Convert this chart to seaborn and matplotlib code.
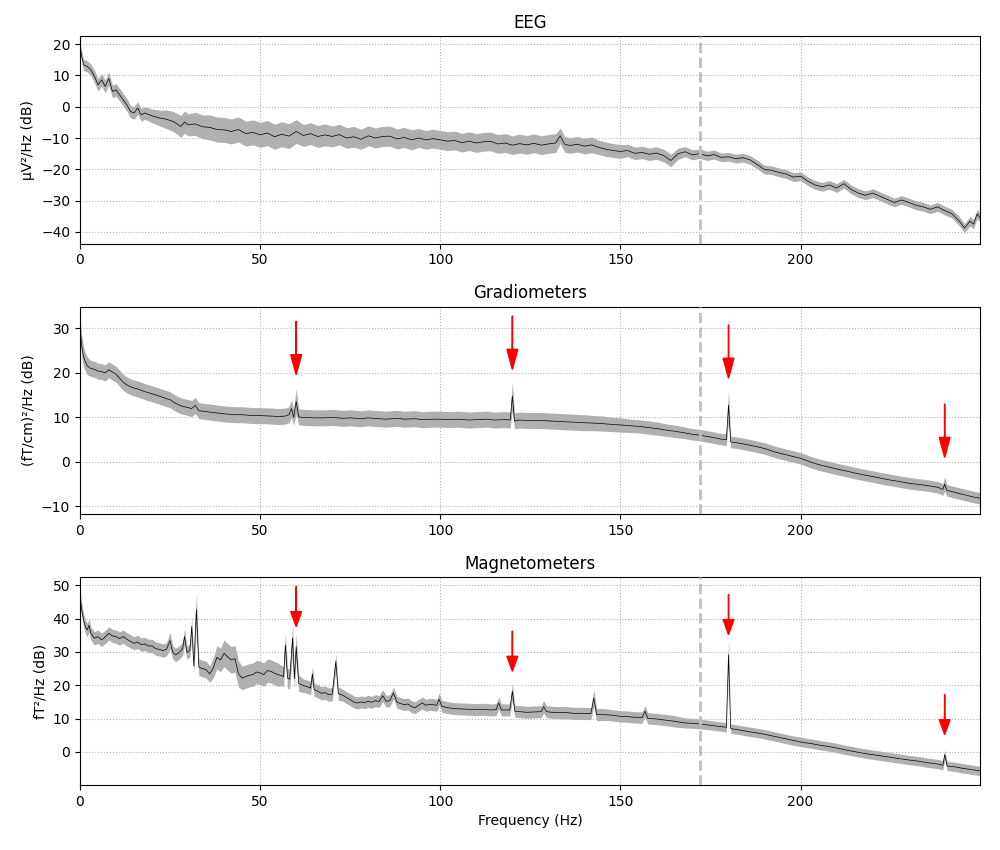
import numpy as np
import matplotlib
matplotlib.use("Agg")
import matplotlib.pyplot as plt
import seaborn as sns

# --- values (frequency in Hz, PSD mean and std in dB) ---
eeg_freqs = [0, 0.5, 1, 2, 3, 4, 5, 6, 7, 8,
             9, 10, 11, 12, 13, 14, 15, 16, 17, 18,
             20, 22, 24, 26, 28, 29, 30, 32, 34, 36,
             38, 40, 42, 44, 46, 48, 50, 52, 54, 56,
             58, 60, 62, 64, 66, 68, 70, 72, 74, 76,
             78, 80, 82, 84, 86, 88, 90, 92, 94, 96,
             98, 100, 102, 104, 106, 108, 110, 112, 114, 116,
             118, 120, 122, 124, 126, 128, 130, 132, 133.3, 134.5,
             136, 138, 140, 142, 144, 146, 148, 150, 152, 154,
             156, 158, 160, 162, 164, 166, 168, 170, 172, 174,
             176, 178, 180, 182, 184, 186, 188, 190, 192, 194,
             196, 198, 200, 202, 204, 206, 208, 210, 212, 214,
             216, 218, 220, 222, 224, 226, 228, 230, 232, 234,
             236, 238, 240, 242, 244, 245.5, 247, 248, 249, 250]
eeg_psd = [19.5, 16.0, 13.4, 12.9, 11.8, 9.7, 7.0, 8.6, 6.5, 9.0,
           4.9, 5.4, 3.8, 2.2, 0.6, -1.5, -2.0, -0.4, -2.6, -2.0,
           -2.9, -3.6, -4.0, -4.8, -6.3, -4.9, -5.8, -5.5, -6.4, -6.6,
           -7.3, -7.4, -7.9, -7.3, -8.6, -8.2, -9.0, -8.4, -9.6, -8.8,
           -9.4, -7.9, -9.2, -8.6, -9.5, -9.0, -9.5, -8.9, -10.0, -9.6,
           -10.4, -9.3, -10.0, -9.5, -9.4, -10.3, -9.8, -10.6, -10.0, -10.6,
           -10.2, -10.6, -11.0, -10.8, -11.5, -11.0, -11.6, -11.2, -11.1, -11.9,
           -11.6, -12.3, -11.8, -12.2, -11.7, -12.3, -11.9, -11.6, -9.3, -12.0,
           -12.4, -12.0, -12.6, -12.2, -13.0, -13.6, -14.0, -14.3, -14.0, -14.9,
           -14.6, -15.2, -14.8, -15.6, -17.2, -15.0, -14.4, -15.4, -15.0, -15.7,
           -15.3, -16.2, -16.0, -16.6, -16.3, -17.0, -18.5, -20.1, -20.3, -21.0,
           -21.5, -22.5, -22.2, -23.8, -25.0, -25.6, -25.0, -26.0, -24.6, -26.4,
           -27.6, -28.3, -27.6, -28.6, -29.6, -30.6, -29.8, -30.6, -31.5, -32.0,
           -32.8, -32.0, -33.2, -34.2, -36.5, -38.8, -36.6, -37.5, -34.3, -35.8]
eeg_std = [1.5, 1.5, 1.8, 1.8, 1.8, 2.0, 2.0, 2.0, 2.0, 2.2,
           2.0, 2.0, 2.0, 2.0, 2.0, 2.0, 2.0, 2.0, 2.0, 2.0,
           2.2, 2.5, 3.0, 3.2, 3.5, 3.5, 3.5, 3.7, 3.8, 4.0,
           4.0, 4.0, 4.0, 4.0, 4.0, 4.0, 4.0, 4.0, 4.0, 4.0,
           4.0, 3.8, 3.5, 3.5, 3.5, 3.5, 3.3, 3.3, 3.3, 3.3,
           3.2, 3.2, 3.2, 3.2, 3.2, 3.2, 3.2, 3.2, 3.0, 3.0,
           3.0, 3.0, 3.0, 3.0, 3.0, 3.0, 3.0, 3.0, 3.0, 3.0,
           3.0, 3.0, 3.0, 3.0, 3.0, 3.0, 3.0, 3.0, 2.5, 2.5,
           2.5, 2.5, 2.5, 2.5, 2.3, 2.3, 2.2, 2.2, 2.0, 2.0,
           2.0, 2.0, 2.0, 2.0, 2.0, 1.8, 1.6, 1.6, 1.5, 1.5,
           1.4, 1.4, 1.4, 1.4, 1.4, 1.4, 1.4, 1.4, 1.4, 1.4,
           1.4, 1.4, 1.4, 1.4, 1.4, 1.4, 1.4, 1.4, 1.4, 1.4,
           1.4, 1.4, 1.4, 1.4, 1.4, 1.4, 1.4, 1.4, 1.4, 1.4,
           1.4, 1.4, 1.4, 1.4, 1.5, 1.5, 1.5, 1.5, 1.5, 1.5]

grad_freqs = [0, 0.5, 1, 1.5, 2, 3, 4, 5, 6, 7,
              8, 9, 10, 11, 12, 13, 14, 15, 16, 18,
              20, 22, 24, 25, 26, 28, 30, 31, 32, 33,
              35, 37, 40, 43, 45, 48, 50, 53, 55, 57,
              58, 58.7, 59.3, 60, 60.7, 62, 65, 68, 70, 73,
              75, 78, 80, 83, 85, 88, 90, 93, 95, 98,
              100, 103, 105, 108, 110, 113, 115, 118, 119.4, 120,
              120.6, 122, 125, 128, 130, 133, 135, 138, 140, 143,
              145, 148, 150, 153, 155, 158, 160, 163, 165, 168,
              170, 172, 175, 178, 179.4, 180, 180.6, 183, 185, 188,
              190, 193, 195, 198, 200, 203, 205, 208, 210, 213,
              215, 218, 220, 223, 225, 228, 230, 233, 235, 238,
              239.5, 240, 240.6, 243, 245, 248, 250]
grad_psd = [30.5, 26.0, 23.5, 22.5, 21.6, 21.0, 20.8, 20.4, 20.3, 20.0,
            20.7, 20.2, 19.7, 18.8, 17.9, 17.3, 16.9, 16.6, 16.4, 15.8,
            15.3, 14.8, 14.2, 14.0, 13.4, 12.6, 12.2, 12.0, 12.7, 11.5,
            11.3, 11.1, 10.8, 10.6, 10.6, 10.4, 10.4, 10.3, 10.2, 10.3,
            10.6, 12.0, 10.0, 13.6, 10.1, 10.0, 9.9, 9.9, 10.0, 9.8,
            9.9, 9.7, 9.9, 9.7, 9.6, 9.8, 9.6, 9.7, 9.5, 9.6,
            9.6, 9.5, 9.6, 9.4, 9.5, 9.6, 9.4, 9.5, 9.4, 14.8,
            9.2, 9.4, 9.3, 9.3, 9.2, 9.1, 9.0, 8.9, 8.8, 8.7,
            8.6, 8.4, 8.3, 8.1, 8.0, 7.7, 7.5, 7.1, 6.9, 6.5,
            6.2, 6.0, 5.6, 5.1, 5.0, 12.8, 4.5, 4.2, 3.9, 3.4,
            3.0, 2.2, 1.8, 1.2, 0.8, -0.1, -0.6, -1.2, -1.6, -2.1,
            -2.5, -3.0, -3.3, -3.8, -4.1, -4.5, -4.8, -5.1, -5.3, -5.7,
            -6.2, -5.0, -6.4, -6.9, -7.3, -7.9, -8.2]
grad_std = [2.0, 2.5, 2.2, 2.0, 2.0, 1.8, 1.8, 1.8, 1.8, 1.8,
            1.8, 1.8, 1.8, 1.8, 1.8, 1.8, 1.8, 1.8, 1.8, 1.8,
            1.8, 1.8, 1.8, 1.8, 1.8, 1.8, 1.8, 1.8, 1.8, 1.8,
            1.8, 1.8, 1.8, 1.8, 1.8, 1.8, 1.8, 1.8, 1.8, 1.8,
            1.8, 2.0, 1.8, 2.8, 1.8, 1.8, 1.8, 1.8, 1.8, 1.8,
            1.8, 1.8, 1.8, 1.8, 1.8, 1.8, 1.8, 1.8, 1.8, 1.8,
            1.8, 1.8, 1.8, 1.8, 1.8, 1.8, 1.8, 1.8, 1.8, 3.2,
            1.8, 1.8, 1.8, 1.8, 1.8, 1.8, 1.8, 1.8, 1.8, 1.7,
            1.7, 1.6, 1.6, 1.5, 1.5, 1.5, 1.5, 1.4, 1.4, 1.3,
            1.3, 1.3, 1.3, 1.3, 1.3, 3.5, 1.3, 1.3, 1.3, 1.3,
            1.3, 1.3, 1.3, 1.3, 1.3, 1.3, 1.3, 1.3, 1.3, 1.3,
            1.3, 1.3, 1.3, 1.3, 1.3, 1.3, 1.3, 1.3, 1.3, 1.3,
            1.3, 1.6, 1.3, 1.3, 1.3, 1.3, 1.3]

mag_freqs = [0, 0.5, 1, 1.5, 2, 2.5, 3, 4, 5, 6,
             7, 8, 9, 10, 11, 12, 13, 14, 15, 16,
             17, 18, 19, 20, 21, 22, 23, 24, 25, 25.7,
             26.5, 27.5, 28.5, 29, 29.7, 30.5, 31, 31.6, 32.3, 33,
             34, 35, 36, 37, 38, 39, 40, 41, 42, 43,
             44, 45, 46, 47, 48, 49, 50, 51, 52, 53,
             54, 55, 56, 56.5, 57, 57.6, 58.2, 59, 59.5, 60,
             60.7, 62, 63, 64, 64.5, 65, 66, 67, 68, 69,
             70, 71, 71.7, 73, 74, 75, 76, 77, 78, 79,
             80, 81, 82, 83, 84, 85, 86, 87, 88, 89,
             90, 91, 92, 93, 94, 95, 96, 97, 98, 99,
             99.7, 100.4, 102, 104, 106, 108, 110, 112, 114, 115.5,
             116.2, 117, 119.3, 120, 120.7, 122, 124, 126, 128, 128.7,
             129.5, 131, 133, 135, 137, 139, 141.8, 142.6, 143.4, 145,
             147, 150, 152, 154, 156, 156.8, 157.6, 160, 163, 165,
             168, 170, 172, 175, 178, 179.4, 180, 180.6, 183, 185,
             188, 190, 193, 195, 198, 200, 203, 205, 208, 210,
             213, 215, 218, 220, 223, 225, 228, 230, 233, 235,
             238, 239.5, 240, 240.7, 243, 245, 248, 250]
mag_psd = [46.5, 42.5, 39.6, 37.5, 36.6, 38.0, 35.6, 34.1, 34.6, 33.6,
           34.5, 35.6, 34.8, 34.6, 34.0, 34.6, 33.8, 33.2, 32.6, 33.0,
           32.2, 32.4, 31.8, 31.8, 31.0, 30.8, 30.4, 30.8, 33.4, 30.0,
           29.1, 29.8, 31.0, 34.6, 29.8, 30.6, 37.6, 25.8, 42.8, 25.4,
           25.0, 24.7, 23.4, 25.2, 28.4, 27.6, 29.6, 28.5, 27.6, 28.0,
           23.4, 22.2, 22.6, 23.0, 23.2, 24.0, 23.7, 23.2, 24.4, 24.2,
           23.6, 23.2, 22.9, 22.6, 32.1, 22.2, 21.8, 34.2, 22.0, 31.6,
           20.6, 19.9, 19.6, 19.2, 23.4, 18.7, 18.2, 17.6, 17.8, 17.2,
           17.3, 27.1, 17.5, 17.0, 16.3, 15.7, 15.0, 14.7, 15.0, 14.8,
           15.2, 14.9, 15.4, 15.1, 16.9, 15.2, 15.4, 17.7, 14.9, 14.5,
           14.2, 14.4, 13.6, 13.3, 14.0, 14.7, 14.0, 14.3, 14.2, 14.0,
           15.8, 13.7, 13.3, 13.0, 12.9, 12.8, 12.7, 12.8, 12.6, 12.7,
           14.7, 12.6, 12.6, 18.2, 12.2, 12.1, 11.9, 12.0, 12.1, 13.6,
           12.1, 11.9, 11.8, 11.8, 11.6, 11.6, 11.5, 16.2, 11.2, 11.2,
           11.1, 10.7, 10.6, 10.4, 10.3, 12.2, 10.1, 9.9, 9.5, 9.2,
           8.7, 8.6, 8.4, 8.0, 7.6, 7.4, 29.2, 7.0, 6.6, 6.2,
           5.7, 5.3, 4.6, 4.1, 3.4, 3.0, 2.5, 2.1, 1.6, 1.2,
           0.5, 0.1, -0.5, -0.8, -1.3, -1.6, -2.1, -2.4, -2.8, -3.2,
           -3.6, -4.0, -0.8, -4.2, -4.5, -4.9, -5.4, -5.7]
mag_std = [2.0, 2.0, 2.0, 2.0, 2.0, 2.0, 2.0, 2.0, 2.0, 2.0,
           2.0, 2.0, 2.0, 2.0, 2.0, 2.0, 2.0, 2.0, 2.0, 2.0,
           2.0, 2.0, 2.0, 2.0, 2.0, 2.0, 2.0, 2.0, 2.5, 2.0,
           2.0, 2.0, 2.0, 2.5, 2.0, 2.0, 3.0, 2.0, 5.0, 2.5,
           2.5, 2.5, 2.5, 3.0, 3.5, 3.5, 4.0, 4.0, 4.0, 4.0,
           4.0, 3.5, 3.5, 3.5, 3.5, 3.5, 3.5, 3.5, 3.5, 3.5,
           3.5, 3.5, 3.0, 3.0, 3.5, 3.0, 3.0, 4.0, 3.0, 4.0,
           2.5, 2.0, 2.0, 2.0, 2.2, 2.0, 2.0, 2.0, 2.0, 2.0,
           2.0, 2.5, 2.0, 1.8, 1.8, 1.8, 1.8, 1.8, 1.8, 1.8,
           1.8, 1.8, 1.8, 1.8, 1.8, 1.8, 1.8, 1.8, 1.8, 1.8,
           1.8, 1.8, 1.8, 1.8, 1.8, 1.8, 1.8, 1.8, 1.8, 1.8,
           1.8, 1.8, 1.8, 1.8, 1.8, 1.8, 1.8, 1.8, 1.8, 1.8,
           1.8, 1.8, 1.8, 2.5, 1.8, 1.8, 1.8, 1.8, 1.8, 1.8,
           1.8, 1.8, 1.8, 1.8, 1.8, 1.8, 1.8, 2.5, 1.8, 1.8,
           1.7, 1.7, 1.7, 1.7, 1.7, 1.7, 1.7, 1.7, 1.7, 1.7,
           1.5, 1.5, 1.5, 1.4, 1.4, 1.4, 4.5, 1.4, 1.4, 1.4,
           1.4, 1.4, 1.4, 1.4, 1.4, 1.4, 1.4, 1.4, 1.4, 1.4,
           1.4, 1.4, 1.4, 1.4, 1.4, 1.4, 1.4, 1.4, 1.4, 1.4,
           1.4, 1.4, 1.4, 1.4, 1.4, 1.4, 1.4, 1.4]

titles = ['EEG', 'Gradiometers', 'Magnetometers']
ylabels = ['µV²/Hz (dB)', '(fT/cm)²/Hz (dB)', 'fT²/Hz (dB)']
ylims = [(-43.8, 22.6), (-11.8, 34.9), (-9.9, 52.4)]
yticks = [[-40, -30, -20, -10, 0, 10, 20], [-10, 0, 10, 20, 30], [0, 10, 20, 30, 40, 50]]
line_noise = [60, 120, 180, 240]
lowpass = 172.2

panels = [(eeg_freqs, eeg_psd, eeg_std),
          (grad_freqs, grad_psd, grad_std),
          (mag_freqs, mag_psd, mag_std)]

fig, axes = plt.subplots(3, 1, figsize=(10, 8.5), dpi=100)
fig.subplots_adjust(left=0.08, right=0.98, top=0.9576, bottom=0.0765, hspace=0.303)

for i, (ax, (f, p, s)) in enumerate(zip(axes, panels)):
    assert len(f) == len(p) == len(s), titles[i]
    f = np.array(f)
    p = np.array(p)
    s = np.array(s)
    ax.fill_between(f, p - s, p + s, color='0.69', lw=0, zorder=2)
    sns.lineplot(x=f, y=p, ax=ax, color='k', linewidth=0.5, zorder=3)
    ax.axvline(lowpass, color='0.75', ls='--', lw=2, zorder=4)
    ax.set_xlim(0, 249.8)
    ax.set_ylim(*ylims[i])
    ax.set_xticks([0, 50, 100, 150, 200])
    ax.set_yticks(yticks[i])
    ax.grid(True, ls=':', color='0.7', lw=0.8)
    ax.set_axisbelow(True)
    ax.set_title(titles[i], fontsize=12)
    ax.set_ylabel(ylabels[i])
    ax.set_xlabel('')
    # red arrows at line-noise frequencies (MEG only)
    if i > 0:
        for freq in line_noise:
            idx = int(np.argmin(np.abs(f - freq)))
            ax.arrow(x=f[idx], y=p[idx] + 18, dx=0, dy=-12, color='red',
                     width=0.1, head_width=3, length_includes_head=True, zorder=5)

axes[-1].set_xlabel('Frequency (Hz)')

plt.savefig('out.png', dpi=100)
